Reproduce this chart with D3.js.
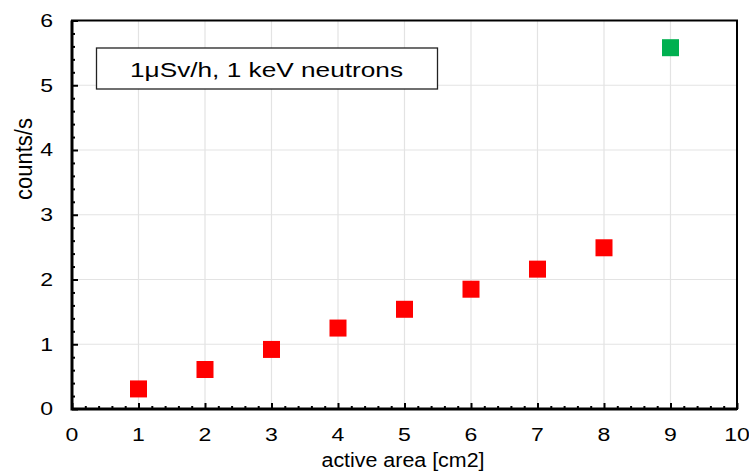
<!DOCTYPE html>
<html>
<head>
  <script src="https://cdn.jsdelivr.net/npm/d3@7"></script>
  <style>
    body { margin: 0; background: #fff; font-family: "Liberation Sans", Arial, sans-serif; }
  </style>
</head>
<body>
  <div id="chart"></div>
  <script>
    // data
    const areaRed = [1, 2, 3, 4, 5, 6, 7, 8];
    const countsRed = [0.31, 0.61, 0.92, 1.25, 1.54, 1.85, 2.16, 2.49];
    const areaGreen = [9];
    const countsGreen = [5.58];
    const xTicks = [0, 1, 2, 3, 4, 5, 6, 7, 8, 9, 10];
    const yTicks = [0, 1, 2, 3, 4, 5, 6];
    const legendText = "1\u03bcSv/h, 1 keV neutrons";

    const width = 749, height = 475;
    const margin = { top: 20.5, right: 12, bottom: 66, left: 72 };

    const svg = d3.select("#chart").append("svg")
      .attr("width", width)
      .attr("height", height);

    const x = d3.scaleLinear().domain([0, 10]).range([margin.left, width - margin.right]);
    const y = d3.scaleLinear().domain([0, 6]).range([height - margin.bottom, margin.top]);

    // grid
    svg.append("g")
      .attr("stroke", "#e3e3e3")
      .attr("stroke-width", 1.2)
      .call(g => g.selectAll(".v").data(xTicks.slice(1, -1)).join("line")
        .attr("x1", d => x(d)).attr("x2", d => x(d))
        .attr("y1", y(0)).attr("y2", y(6)))
      .call(g => g.selectAll(".h").data(yTicks.slice(1, -1)).join("line")
        .attr("x1", x(0)).attr("x2", x(10))
        .attr("y1", d => y(d)).attr("y2", d => y(d)));

    // inward ticks, major + minor
    const minorX = d3.range(0, 50).map(i => i / 5).filter(v => v % 1 !== 0);
    const minorY = d3.range(0, 30).map(i => i / 5).filter(v => v % 1 !== 0);
    const tickGroup = (axis, transform) => svg.append("g").attr("transform", transform)
      .call(axis)
      .call(g => g.select(".domain").remove())
      .call(g => g.selectAll("line").attr("stroke-width", 2));

    tickGroup(d3.axisBottom(x).tickValues(minorX).tickSize(-3).tickFormat(""), `translate(0,${y(0)})`);
    tickGroup(d3.axisLeft(y).tickValues(minorY).tickSize(-3).tickFormat(""), `translate(${x(0)},0)`);
    tickGroup(d3.axisBottom(x).tickValues(xTicks).tickSize(-6).tickFormat(""), `translate(0,${y(0)})`);
    tickGroup(d3.axisLeft(y).tickValues(yTicks).tickSize(-6).tickFormat(""), `translate(${x(0)},0)`);

    // frame
    svg.append("rect")
      .attr("x", x(0)).attr("y", y(6))
      .attr("width", x(10) - x(0)).attr("height", y(0) - y(6))
      .attr("fill", "none").attr("stroke", "#000").attr("stroke-width", 2);
    svg.append("path")
      .attr("d", `M${x(0)},${y(6)}V${y(0)}H${x(10)}`)
      .attr("fill", "none").attr("stroke", "#000").attr("stroke-width", 3);

    // tick labels (text in the original is a bit wide)
    svg.append("g")
      .style("font-size", "18px")
      .selectAll("text").data(xTicks).join("text")
      .attr("transform", d => `translate(${x(d)},441) scale(1.28,1)`)
      .attr("text-anchor", "middle")
      .text(d => d);
    svg.append("g")
      .style("font-size", "18px")
      .selectAll("text").data(yTicks).join("text")
      .attr("transform", d => `translate(53,${y(d)}) scale(1.28,1)`)
      .attr("dy", "0.36em")
      .attr("text-anchor", "end")
      .text(d => d);

    // axis titles
    svg.append("text")
      .attr("x", 403).attr("y", 467)
      .attr("text-anchor", "middle")
      .attr("textLength", 163)
      .attr("lengthAdjust", "spacingAndGlyphs")
      .style("font-size", "20px")
      .text("active area [cm2]");
    svg.append("text")
      .attr("transform", "translate(32,159) rotate(-90)")
      .attr("text-anchor", "middle")
      .attr("textLength", 82)
      .attr("lengthAdjust", "spacingAndGlyphs")
      .style("font-size", "23px")
      .text("counts/s");

    // markers
    const sz = 17;
    svg.append("g").attr("fill", "#ff0000")
      .selectAll("rect").data(areaRed).join("rect")
      .attr("x", d => x(d) - sz / 2)
      .attr("y", (d, i) => y(countsRed[i]) - sz / 2)
      .attr("width", sz).attr("height", sz);
    svg.append("g").attr("fill", "#00b050")
      .selectAll("rect").data(areaGreen).join("rect")
      .attr("x", d => x(d) - sz / 2)
      .attr("y", (d, i) => y(countsGreen[i]) - sz / 2)
      .attr("width", sz).attr("height", sz);

    // annotation box
    svg.append("rect")
      .attr("x", 96.5).attr("y", 48)
      .attr("width", 341).attr("height", 41)
      .attr("fill", "#fff").attr("stroke", "#222").attr("stroke-width", 1.3);
    svg.append("text")
      .attr("x", 130).attr("y", 77)
      .attr("textLength", 273)
      .attr("lengthAdjust", "spacingAndGlyphs")
      .style("font-size", "21px")
      .text(legendText);
  </script>
</body>
</html>
